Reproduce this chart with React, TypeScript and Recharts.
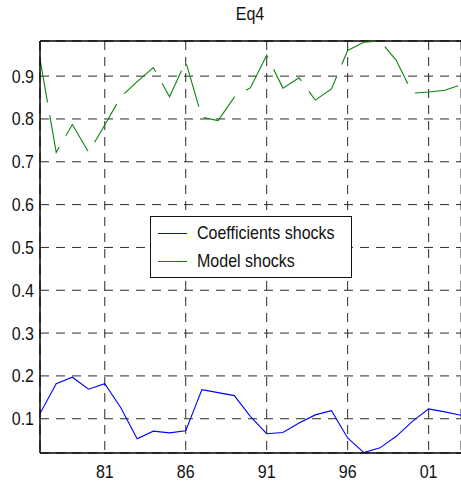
import React from 'react';
import { LineChart, Line, XAxis, YAxis, CartesianGrid, ReferenceLine, Legend } from 'recharts';

const years = [1977, 1978, 1979, 1980, 1981, 1982, 1983, 1984, 1985, 1986, 1987, 1988, 1989, 1990, 1991, 1992, 1993, 1994, 1995, 1996, 1997, 1998, 1999, 2000, 2001, 2002, 2003];
const coefficientsShocks = [0.112, 0.182, 0.197, 0.169, 0.182, 0.125, 0.053, 0.071, 0.067, 0.072, 0.168, 0.161, 0.154, 0.105, 0.065, 0.068, 0.09, 0.109, 0.119, 0.055, 0.021, 0.032, 0.059, 0.094, 0.123, 0.116, 0.108];
const modelShocks = [0.94, 0.722, 0.787, 0.722, 0.786, 0.852, 0.887, 0.92, 0.852, 0.934, 0.804, 0.796, 0.851, 0.873, 0.949, 0.872, 0.896, 0.844, 0.87, 0.96, 0.979, 0.982, 0.937, 0.86, 0.863, 0.867, 0.88];
const xTicks = [1981, 1986, 1991, 1996, 2001];
const yTicks = [0.1, 0.2, 0.3, 0.4, 0.5, 0.6, 0.7, 0.8, 0.9];
const title = 'Eq4';
const seriesNames = ['Coefficients shocks', 'Model shocks'];
const seriesColors = ['#0000ff', '#0a850a'];

const data = years.map((y, i) => ({ year: y, coef: coefficientsShocks[i], model: modelShocks[i] }));

const FONT = '"Liberation Sans", Arial, sans-serif';
const Y_MIN = 0.02;
const Y_MAX = 0.982;

const XTick = (props: any) => {
  const { x, y, payload } = props;
  const label = String(payload.value).slice(2);
  return (
    <text transform={`translate(${x},${y + 10}) scale(1,1.2)`} textAnchor="middle" dominantBaseline="central" fontFamily={FONT} fontSize={16} fill="#111">
      {label}
    </text>
  );
};

const YTick = (props: any) => {
  const { x, y, payload } = props;
  return (
    <text transform={`translate(${x + 2},${y}) scale(1,1.2)`} textAnchor="end" dominantBaseline="central" fontFamily={FONT} fontSize={16} fill="#111">
      {payload.value.toFixed(1)}
    </text>
  );
};

const LegendBox = () => (
  <div style={{ position: 'relative', width: 202, height: 62, boxSizing: 'border-box', border: '1.5px solid #111', background: '#fff', fontFamily: FONT, fontSize: 16, color: '#111' }}>
    <svg width={40} height={60} style={{ position: 'absolute', left: 0, top: 0 }}>
      <line x1={7} x2={36} y1={16.5} y2={16.5} stroke={seriesColors[0]} strokeWidth={1} />
      <line x1={7} x2={36} y1={44.5} y2={44.5} stroke={seriesColors[1]} strokeWidth={1} />
    </svg>
    <span style={{ position: 'absolute', left: 46, top: 6, lineHeight: '20px', display: 'inline-block', transform: 'scaleY(1.2)', whiteSpace: 'nowrap' }}>{seriesNames[0]}</span>
    <span style={{ position: 'absolute', left: 46, top: 34, lineHeight: '20px', display: 'inline-block', transform: 'scaleY(1.2)', whiteSpace: 'nowrap' }}>{seriesNames[1]}</span>
  </div>
);

export default function App() {
  return (
    <div style={{ position: 'absolute', left: 0, top: 0, width: 461, height: 487, background: '#fff' }}>
      <div style={{ position: 'absolute', left: 0, top: 4, width: 500, textAlign: 'center', fontFamily: FONT, fontSize: 16, color: '#111', lineHeight: '20px', transform: 'scaleY(1.2)' }}>
        {title}
      </div>
      <LineChart width={461} height={487} data={data} margin={{ top: 41, right: 0, left: 0, bottom: 0 }}>
        <CartesianGrid stroke="#2a2a2a" strokeDasharray="9 7" />
        <XAxis dataKey="year" type="number" domain={[1977, 2003]} ticks={xTicks} tick={<XTick />} tickLine={false} axisLine={{ stroke: '#000', strokeWidth: 1.5 }} height={34} allowDataOverflow />
        <YAxis type="number" domain={[Y_MIN, Y_MAX]} ticks={yTicks} tick={<YTick />} tickLine={false} axisLine={{ stroke: '#000', strokeWidth: 1.5 }} width={40} allowDataOverflow />
        <ReferenceLine y={Y_MAX} stroke="#000" strokeWidth={1.5} />
        <Line type="linear" dataKey="coef" name={seriesNames[0]} stroke={seriesColors[0]} strokeWidth={1.1} dot={false} isAnimationActive={false} />
        <Line type="linear" dataKey="model" name={seriesNames[1]} stroke={seriesColors[1]} strokeWidth={1.1} strokeDasharray="44 13" dot={false} isAnimationActive={false} />
        <Legend layout="vertical" align="center" verticalAlign="middle" content={<LegendBox />} wrapperStyle={{ left: 150, top: 216, width: 202, height: 62 }} />
      </LineChart>
    </div>
  );
}
